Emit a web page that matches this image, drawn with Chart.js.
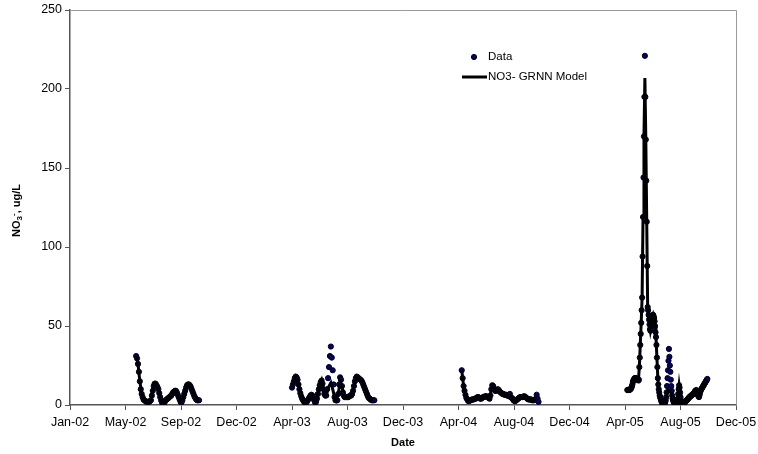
<!DOCTYPE html>
<html>
<head>
<meta charset="utf-8">
<script src="https://cdn.jsdelivr.net/npm/chart.js@4.4.1/dist/chart.umd.min.js"></script>
<style>
  html, body { margin: 0; padding: 0; background: #fff; }
  #wrap { width: 758px; height: 454px; }
</style>
</head>
<body>
<div id="wrap"><canvas id="no3Chart" width="758" height="454"></canvas></div>
<script>
// x axis: days since 1 Jan 2002, one tick every 120 days
const tickLabels = ['Jan-02', 'May-02', 'Sep-02', 'Dec-02', 'Apr-03', 'Aug-03', 'Dec-03',
                    'Apr-04', 'Aug-04', 'Dec-04', 'Apr-05', 'Aug-05', 'Dec-05'];
const tickDays = 120;

// first sampling day of each season, and days between samples
const seasonStart = [143, 480, 847, 1205];
const dataStep = [2, 2, 2, 1];
const modelStep = [4, 4, 4, 2];

// measured NO3- (ug/L)
const data2002 = [31, 29.5, 26, 21, 15, 10, 7, 5, 3.5, 3, 2.5, 2, 2, 2, 2, 2.5, 3, 6, 9, 12, 13.5, 13.5,
  12.5, 11.5, 10, 7.5, 5, 3, 1.5, 0.5, 1, 2, 3, 3.5, 4, 4.5, 5, 5.5, 6, 7, 8, 8.5, 9, 9, 8, 6.5, 5, 3.5,
  2, 1.5, 3, 5, 7, 9, 11, 12.5, 13, 13, 12.5, 11.5, 10, 8.5, 7, 5.5, 4.5, 3.5, 3, 3, 3];
const data2003 = [11, 13, 15, 17, 18, 17.5, 16, 13, 10, 7.5, 5.5, 4, 3, 2, 1.5, 1.5, 2, 3, 4, 5, 6, 6.5,
  6, 4.5, 3, 1.5, 2, 4, 7, 10, 12.5, 14.5, 15.5, 13.5, 10, 7, 6, 6, 10, 17, 24, 31, 37, 30, 22, 13, 5, 3,
  3, 3, 7, 13, 17.5, 16, 12, 8, 6, 5, 5, 5, 5, 5, 5.5, 6, 6, 7, 9, 12, 15, 17, 18, 17.5, 17, 16.5, 16,
  15.5, 14.5, 13, 11.5, 10, 8.5, 7, 5.5, 4.5, 4, 3.5, 3, 3, 3, 3];
const data2004 = [22, 17, 12, 9, 6.5, 4.5, 3.5, 2.5, 2.5, 3, 3, 3.5, 3.5, 3.5, 4, 4, 4.5, 5, 5, 4.5, 4, 4,
  4.5, 5, 5, 5.5, 5.5, 5.5, 5, 4.5, 4, 6, 10, 12.5, 12, 10, 9, 9, 9.5, 10, 9.5, 8.5, 8, 7.5, 7, 7, 6.5,
  6.5, 6.5, 6, 6, 5.5, 7, 5, 4.5, 4, 3, 2.5, 2.5, 3, 3.5, 4, 4.5, 5, 5, 5, 5, 5.5, 5.5, 5, 4.5, 4, 3.5,
  3.5, 3.5, 3.5, 3, 3, 3, 3.5, 3.5, 6.5, 4, 2];
const data2005 = [9.5, 9.5, 9.5, 9.5, 9.5, 9.5, 10, 10, 10.5, 11, 12,
  13, 14.5, 15.5, 16, 16.5, 17, 17, 17, 17, 16.5, 16.5, 16, 16, 15.5, 16,
  24, 30, 38, 45, 52, 60, 68, 94, 119, 144, 170, 195, 221, 195, 168, 142, 116, 88, 62,
  60, 57, 54, 51, 48, 47, 48, 50, 53, 55, 57, 57, 56, 55, 53, 50, 46, 43, 38, 30, 24, 17, 13, 10, 8, 6,
  5, 4, 3, 2, 1.5, 1, 0.5, 0, 0,
  0.5, 1, 2, 3, 5, 8, 12, 17, 22, 28, 35.5, 30.5, 25, 21, 16, 12, 9, 6, 4, 3, 2, 1.5, 1, 0.5, 0, 0, 0, 0.5,
  2, 4, 7, 10, 12.5, 11, 8, 5, 3, 1.5, 1, 0.5, 0.5, 1, 1, 1.5, 1.5, 2, 2.5, 2.5, 3, 3, 3.5, 4, 4, 4.5, 5,
  5, 5.5, 5.5, 6, 6, 6.5, 6.5, 7, 7, 7.5, 8, 8.5, 9, 9, 9.5, 9, 8, 7, 6, 5.5, 5, 6, 7.5, 8.5, 9.5, 10,
  10.5, 11, 11.5, 12, 12.5, 13, 13.5, 14, 14.5, 15, 15.5, 16, 16.5];

// NO3- GRNN model output
const model2002 = [31, 26, 15, 7, 3.5, 2.5, 2, 2, 3, 9, 13.5, 12.5, 10, 5, 1.5, 1, 3, 4, 5, 6, 8, 9, 8, 5,
  2, 3, 7, 11, 13, 12.5, 10, 7, 4.5, 3, 3];
const model2003 = [11, 15, 18, 16, 10, 5.5, 3, 1.5, 2, 4, 6, 6, 3, 2, 7, 12.5, 15.5, 10, 6, 8, 12, 14, 10,
  5, 3, 7, 15, 12, 6, 5, 5, 5.5, 6, 9, 15, 18, 17, 16, 14.5, 11.5, 8.5, 5.5, 4, 3, 3];
const model2004 = [22, 12, 6.5, 3.5, 2.5, 3, 3.5, 4, 4.5, 5, 4, 4.5, 5, 5.5, 5, 4, 10, 12, 9, 9.5, 9.5, 8,
  7, 6.5, 6.5, 6, 6, 4.5, 3, 2.5, 3.5, 4.5, 5, 5, 5.5, 4.5, 3.5, 3.5, 3, 3, 3.5, 4];
const model2005 = [9.5, 9.5, 9.5, 10, 10.5, 12, 14.5, 16, 17, 17, 16.5, 16, 15.5, 24, 38, 52, 68, 119, 170,
  207, 168, 116, 62, 57, 51, 47, 50, 55, 57, 55, 50, 43, 30, 17, 10, 6, 4, 2, 1, 0, 0.5, 2, 5, 8, 10, 10,
  9, 8, 7, 4, 2, 1, 0, 0, 2, 7, 12.5, 8, 3, 1, 0.5, 1, 1.5, 2.5, 3, 3.5, 4, 5, 5.5, 6, 6.5, 7, 7.5, 8.5,
  9, 9, 7, 5.5, 6, 8.5, 10, 11, 12, 13, 14, 15, 16];

const dataSeasons = [data2002, data2003, data2004, data2005];
const modelSeasons = [model2002, model2003, model2004, model2005];

function toPoints(values, start, step) {
    return values.map((v, i) => ({ x: start + i * step, y: v }));
}

const dataPoints = [];
dataSeasons.forEach((vals, s) => {
    dataPoints.push(...toPoints(vals, seasonStart[s], dataStep[s]));
});

const modelSets = modelSeasons.map((vals, s) => ({
    label: 'NO3- GRNN Model',
    data: toPoints(vals, seasonStart[s], modelStep[s]),
    showLine: true,
    borderColor: '#000',
    borderWidth: 3,
    pointRadius: 0,
    tension: 0,
    order: 0
}));

// plot frame (top / right) under the marks
const framePlugin = {
    id: 'frame',
    beforeDatasetsDraw(chart) {
        const { ctx, chartArea: a } = chart;
        ctx.save();
        ctx.strokeStyle = '#9a9a9a';
        ctx.lineWidth = 1;
        ctx.beginPath();
        ctx.moveTo(a.left, a.top + 0.5);
        ctx.lineTo(a.right + 0.5, a.top + 0.5);
        ctx.lineTo(a.right + 0.5, a.bottom);
        ctx.stroke();
        ctx.restore();
    }
};

// axis titles and the legend inside the plot
const labelsPlugin = {
    id: 'labels',
    afterDraw(chart) {
        const { ctx, chartArea: a } = chart;
        ctx.save();
        ctx.fillStyle = '#000';
        ctx.textBaseline = 'middle';

        // x title
        ctx.font = 'bold 11px "Liberation Sans", Arial, sans-serif';
        ctx.textAlign = 'center';
        ctx.fillText('Date', (a.left + a.right) / 2, 443);

        // y title with sub/superscript
        const parts = [
            { t: 'NO', f: 'bold 11px "Liberation Sans", Arial, sans-serif', dy: 0 },
            { t: '3', f: 'bold 8px "Liberation Sans", Arial, sans-serif', dy: 3 },
            { t: '-', f: 'bold 8px "Liberation Sans", Arial, sans-serif', dy: -3 },
            { t: ', ug/L', f: 'bold 11px "Liberation Sans", Arial, sans-serif', dy: 0 }
        ];
        let total = 0;
        parts.forEach(p => { ctx.font = p.f; p.w = ctx.measureText(p.t).width; total += p.w; });
        ctx.translate(17, (a.top + a.bottom) / 2 + 3);
        ctx.rotate(-Math.PI / 2);
        ctx.textAlign = 'left';
        let px = -total / 2;
        parts.forEach(p => {
            ctx.font = p.f;
            ctx.fillText(p.t, px, p.dy);
            px += p.w;
        });
        ctx.restore();

        // legend
        ctx.save();
        ctx.font = '11.5px "Liberation Sans", Arial, sans-serif';
        ctx.textBaseline = 'middle';
        ctx.fillStyle = '#000080';
        ctx.strokeStyle = '#000';
        ctx.lineWidth = 1;
        ctx.beginPath();
        ctx.arc(474, 57, 2.6, 0, Math.PI * 2);
        ctx.fill();
        ctx.stroke();
        ctx.fillStyle = '#000';
        ctx.fillText('Data', 488, 57);
        ctx.lineWidth = 3;
        ctx.beginPath();
        ctx.moveTo(462, 77);
        ctx.lineTo(487, 77);
        ctx.stroke();
        ctx.fillText('NO3- GRNN Model', 488, 77);
        ctx.restore();
    }
};

const ctx = document.getElementById('no3Chart').getContext('2d');
const no3Chart = new Chart(ctx, {
    type: 'scatter',
    data: {
        datasets: [
            ...modelSets,
            {
                label: 'Data',
                data: dataPoints,
                pointRadius: 2.6,
                pointBackgroundColor: '#000080',
                pointBorderColor: '#000',
                pointBorderWidth: 1,
                showLine: false,
                order: 1
            }
        ]
    },
    options: {
        responsive: false,
        animation: false,
        events: [],
        layout: { padding: { left: 0, right: 22, top: 10, bottom: 0 } },
        plugins: {
            legend: { display: false },
            tooltip: { enabled: false }
        },
        scales: {
            x: {
                type: 'linear',
                min: 0,
                max: tickDays * (tickLabels.length - 1),
                afterFit: scale => {
                    scale.height = 49;
                    scale.paddingLeft = 0;
                    scale.paddingRight = 0;
                },
                afterBuildTicks: scale => {
                    scale.ticks = tickLabels.map((_, i) => ({ value: i * tickDays }));
                },
                ticks: {
                    autoSkip: false,
                    maxRotation: 0,
                    padding: 5,
                    color: '#000',
                    font: { family: '"Liberation Sans", Arial, sans-serif', size: 12.5 },
                    callback: (value, index) => tickLabels[index]
                },
                grid: { drawOnChartArea: false, drawTicks: true, tickLength: 5, color: '#555' },
                border: { color: '#555', width: 1.5 }
            },
            y: {
                min: 0,
                max: 250,
                afterFit: scale => {
                    scale.width = 70;
                    scale.paddingTop = 0;
                    scale.paddingBottom = 0;
                },
                ticks: {
                    stepSize: 50,
                    padding: 3,
                    color: '#000',
                    font: { family: '"Liberation Sans", Arial, sans-serif', size: 12.5 }
                },
                grid: { drawOnChartArea: false, drawTicks: true, tickLength: 5, color: '#555' },
                border: { color: '#555', width: 1.5 }
            }
        }
    },
    plugins: [framePlugin, labelsPlugin]
});
</script>
</body>
</html>
